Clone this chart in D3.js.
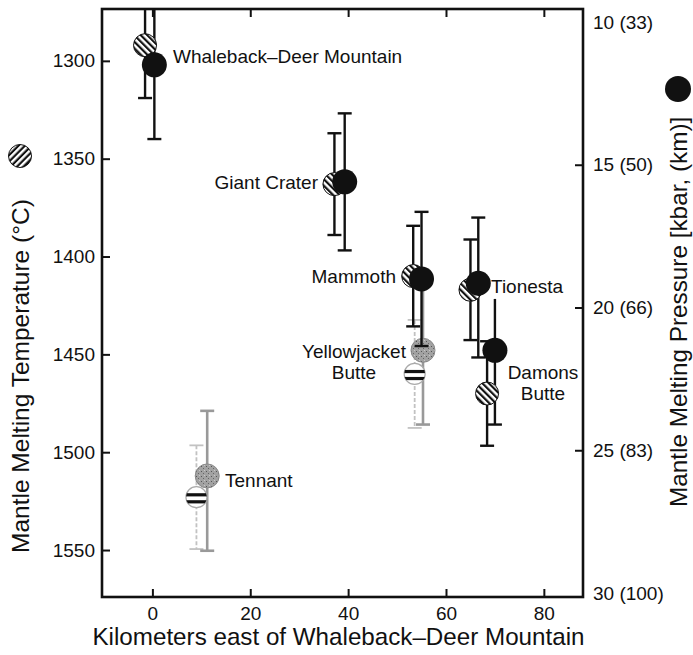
<!DOCTYPE html>
<html>
<head>
<meta charset="utf-8">
<script src="https://cdn.jsdelivr.net/npm/d3@7"></script>
<style>
  body { margin: 0; background: #fff; }
  text { font-family: "Liberation Sans", Arial, Helvetica, sans-serif; fill: #111; }
</style>
</head>
<body>
<div id="chart"></div>
<script>
// Main centres: hatched = melting temperature, black = melting pressure
var siteNames = ["Whaleback–Deer Mountain", "Giant Crater", "Mammoth", "Tionesta", "Damons Butte"];
var tempKm = [-1.5, 37.2, 53.3, 65.0, 68.4];
var tempC = [1292, 1363, 1410, 1417, 1470];
var tempErr = [27, 26, 25.7, 25.7, 26.7];
var presKm = [0.4, 39.3, 55.0, 66.6, 70.0];
var presKbar = [11.5, 15.6, 19.0, 19.15, 21.5];
var presErrUp = [2.6, 2.4, 2.35, 2.3, 1.8];
var presErrDown = [2.6, 2.4, 2.35, 2.6, 2.6];

// Less certain centres (grey = pressure, white = temperature)
var greyNames = ["Yellowjacket Butte", "Tennant"];
var greyKm = [55.3, 11.2];
var greyKbar = [21.5, 25.9];
var greyErrUp = [2.6, 2.28];
var greyErrDown = [2.6, 2.62];
var whiteKm = [53.6, 9.0];
var whiteC = [1460, 1523];
var whiteErr = [27.6, 26.5];

// Axis ticks
var xTicks = [0, 20, 40, 60, 80];
var tempTicks = [1300, 1350, 1400, 1450, 1500, 1550];
var presTicks = [10, 15, 20, 25, 30];
var presTickLabels = ["10 (33)", "15 (50)", "20 (66)", "25 (83)", "30 (100)"];

var svgWidth = 693;
var svgHeight = 655;
var frame = { left: 102, right: 583, top: 9, bottom: 597 };

var svg = d3.select("#chart")
  .append("svg")
  .attr("width", svgWidth)
  .attr("height", svgHeight);

var defs = svg.append("defs");

// diagonal hatch for temperature symbols
var hatch = defs.append("pattern")
  .attr("id", "hatch")
  .attr("patternUnits", "userSpaceOnUse")
  .attr("width", 4.6)
  .attr("height", 4.6)
  .attr("patternTransform", "rotate(-45)");
hatch.append("rect").attr("width", 4.6).attr("height", 4.6).attr("fill", "#fff");
hatch.append("rect").attr("width", 2.2).attr("height", 4.6).attr("fill", "#111");

// speckled grey for the less certain pressure symbols
var speckle = defs.append("pattern")
  .attr("id", "speckle")
  .attr("patternUnits", "userSpaceOnUse")
  .attr("width", 5)
  .attr("height", 5);
speckle.append("rect").attr("width", 5).attr("height", 5).attr("fill", "#a2a2a2");
speckle.append("rect").attr("x", 1).attr("y", 1).attr("width", 1).attr("height", 1).attr("fill", "#555");
speckle.append("rect").attr("x", 3).attr("y", 3).attr("width", 1).attr("height", 1).attr("fill", "#666");
speckle.append("rect").attr("x", 4).attr("y", 0).attr("width", 1).attr("height", 1).attr("fill", "#c8c8c8");

defs.append("clipPath").attr("id", "plotClip")
  .append("rect")
  .attr("x", frame.left).attr("y", frame.top)
  .attr("width", frame.right - frame.left).attr("height", frame.bottom - frame.top);

var x = d3.scaleLinear().domain([-10.3, 88]).range([frame.left, frame.right]);
var yT = d3.scaleLinear().domain([1273.5, 1574]).range([frame.top, frame.bottom]);
var yP = d3.scaleLinear().domain([9.545, 30.14]).range([frame.top, frame.bottom]);

// axes (ticks point into the frame)
svg.append("g")
  .attr("transform", `translate(0, ${frame.bottom})`)
  .call(d3.axisBottom(x).tickValues(xTicks).tickSize(-8).tickPadding(10).tickFormat(d3.format("d")))
  .call(g => g.select(".domain").remove());

svg.append("g")
  .attr("transform", `translate(0, ${frame.top})`)
  .call(d3.axisTop(x).tickValues(xTicks).tickSize(-8).tickFormat(""))
  .call(g => g.select(".domain").remove());

svg.append("g")
  .attr("transform", `translate(${frame.left}, 0)`)
  .call(d3.axisLeft(yT).tickValues(tempTicks).tickSize(-8).tickPadding(7).tickFormat(d3.format("d")))
  .call(g => g.select(".domain").remove());

svg.append("g")
  .attr("transform", `translate(${frame.right}, 0)`)
  .call(d3.axisRight(yP).tickValues(presTicks).tickSize(-8).tickPadding(10)
    .tickFormat((d, i) => presTickLabels[i]))
  .call(g => g.select(".domain").remove())
  .call(g => g.selectAll(".tick line").filter(d => d === 10 || d === 30).remove());

svg.selectAll(".tick text")
  .attr("font-size", 19)
  .attr("font-family", "'Liberation Sans', Arial, sans-serif")
  .attr("fill", "#111");
svg.selectAll(".tick line").attr("stroke", "#111").attr("stroke-width", 2);

svg.append("rect")
  .attr("x", frame.left).attr("y", frame.top)
  .attr("width", frame.right - frame.left).attr("height", frame.bottom - frame.top)
  .attr("fill", "none")
  .attr("stroke", "#111")
  .attr("stroke-width", 2.6);

// error bars helper; skipTop lists bars drawn without an upper cap
var plot = svg.append("g").attr("clip-path", "url(#plotClip)");
var capW = 7;

function errorBars(g, xs, lo, hi, color, width, dash, skipTop) {
  var bars = g.append("g");
  xs.forEach(function(xv, i) {
    bars.append("line")
      .attr("x1", x(xv)).attr("x2", x(xv))
      .attr("y1", lo[i]).attr("y2", hi[i])
      .attr("stroke", color).attr("stroke-width", width)
      .attr("stroke-dasharray", dash || null);
    var caps = (skipTop && skipTop.indexOf(i) >= 0) ? [hi[i]] : [lo[i], hi[i]];
    caps.forEach(function(yv) {
      bars.append("line")
        .attr("x1", x(xv) - capW).attr("x2", x(xv) + capW)
        .attr("y1", yv).attr("y2", yv)
        .attr("stroke", color).attr("stroke-width", width);
    });
  });
}

// less certain bars and symbols first
errorBars(plot, whiteKm,
  whiteC.map((d, i) => yT(d - whiteErr[i])),
  whiteC.map((d, i) => yT(d + whiteErr[i])), "#c2c2c2", 1.8, "4,2");
errorBars(plot, greyKm,
  greyKbar.map((d, i) => yP(d - greyErrUp[i])),
  greyKbar.map((d, i) => yP(d + greyErrDown[i])), "#999", 2.6);

plot.selectAll("circle.grey")
  .data(greyKm)
  .enter()
  .append("circle")
  .attr("class", "grey")
  .attr("cx", d => x(d))
  .attr("cy", (d, i) => yP(greyKbar[i]))
  .attr("r", 12)
  .attr("fill", "url(#speckle)")
  .attr("stroke", "#8a8a8a");

whiteKm.forEach(function(d, i) {
  var cx = x(d), cy = yT(whiteC[i]), r = 10.5;
  var id = "wclip" + i;
  defs.append("clipPath").attr("id", id)
    .append("circle").attr("cx", cx).attr("cy", cy).attr("r", r);
  plot.append("circle")
    .attr("cx", cx).attr("cy", cy).attr("r", r)
    .attr("fill", "#fff").attr("stroke", "#aaa").attr("stroke-width", 1.2);
  var stripes = plot.append("g").attr("clip-path", `url(#${id})`);
  stripes.append("rect").attr("x", cx - r).attr("y", cy - 4).attr("width", 2 * r).attr("height", 3.2).attr("fill", "#111");
  stripes.append("rect").attr("x", cx - r).attr("y", cy + 3).attr("width", 2 * r).attr("height", 3.2).attr("fill", "#111");
});

// black bars for main centres
errorBars(plot, tempKm,
  tempC.map((d, i) => yT(d - tempErr[i])),
  tempC.map((d, i) => yT(d + tempErr[i])), "#111", 2.4);
errorBars(plot, presKm,
  presKbar.map((d, i) => yP(d - presErrUp[i])),
  presKbar.map((d, i) => yP(d + presErrDown[i])), "#111", 2.4, null, [4]);

plot.selectAll("circle.temp")
  .data(tempKm)
  .enter()
  .append("circle")
  .attr("class", "temp")
  .attr("cx", d => x(d))
  .attr("cy", (d, i) => yT(tempC[i]))
  .attr("r", 11.5)
  .attr("fill", "url(#hatch)")
  .attr("stroke", "#111")
  .attr("stroke-width", 1);

plot.selectAll("circle.pres")
  .data(presKm)
  .enter()
  .append("circle")
  .attr("class", "pres")
  .attr("cx", d => x(d))
  .attr("cy", (d, i) => yP(presKbar[i]))
  .attr("r", 12.5)
  .attr("fill", "#111");

// site labels
var labels = [
  { lines: ["Whaleback–Deer Mountain"], x: 173, y: 63, anchor: "start" },
  { lines: ["Giant Crater"], x: 318, y: 189, anchor: "end" },
  { lines: ["Mammoth"], x: 396, y: 283, anchor: "end" },
  { lines: ["Tionesta"], x: 491, y: 293, anchor: "start" },
  { lines: ["Yellowjacket", "Butte"], x: 354, y: 358, anchor: "middle" },
  { lines: ["Damons", "Butte"], x: 543, y: 379, anchor: "middle" },
  { lines: ["Tennant"], x: 225, y: 487, anchor: "start" }
];

labels.forEach(function(l) {
  var t = svg.append("text")
    .attr("x", l.x).attr("y", l.y)
    .attr("text-anchor", l.anchor)
    .attr("font-size", 19);
  l.lines.forEach(function(s, i) {
    t.append("tspan").attr("x", l.x).attr("dy", i === 0 ? 0 : 21).text(s);
  });
});

// axis titles
svg.append("text")
  .attr("x", (frame.left + frame.right) / 2 - 4)
  .attr("y", 645)
  .attr("text-anchor", "middle")
  .attr("font-size", 24.2)
  .text("Kilometers east of Whaleback–Deer Mountain");

var leftTitle = svg.append("g").attr("transform", "translate(29, 553) rotate(-90)");
leftTitle.append("text")
  .attr("x", 0).attr("y", 0)
  .attr("font-size", 24.5)
  .text("Mantle Melting Temperature (°C)");
leftTitle.append("circle")
  .attr("cx", 397).attr("cy", -9).attr("r", 11.5)
  .attr("fill", "url(#hatch)").attr("stroke", "#111").attr("stroke-width", 1);

var rightTitle = svg.append("g").attr("transform", "translate(687, 507) rotate(-90)");
rightTitle.append("text")
  .attr("x", 0).attr("y", 0)
  .attr("font-size", 24.3)
  .text("Mantle Melting Pressure [kbar, (km)]");
rightTitle.append("circle")
  .attr("cx", 418).attr("cy", -9).attr("r", 13)
  .attr("fill", "#111");
</script>
</body>
</html>
